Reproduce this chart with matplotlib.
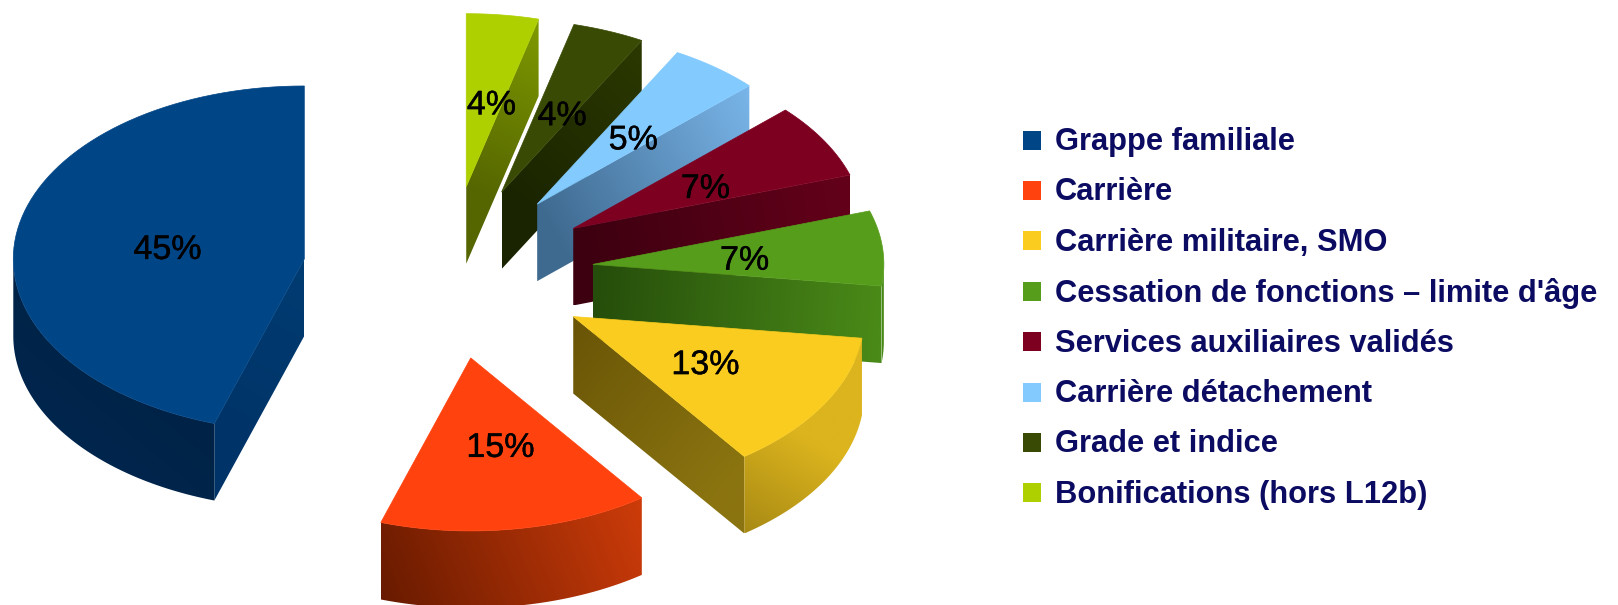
import numpy as np
import matplotlib
matplotlib.use("Agg")
import matplotlib.pyplot as plt
import matplotlib.patheffects as pe
from matplotlib.colors import to_rgb
from matplotlib.patches import Polygon, Rectangle

categories = ["Grappe familiale", "Carrière", "Carrière militaire, SMO",
              "Cessation de fonctions – limite d'âge", "Services auxiliaires validés",
              "Carrière détachement", "Grade et indice", "Bonifications (hors L12b)"]
shares = [45, 15, 13, 7, 7, 5, 4, 4]
pct_labels = ["45%", "15%", "13%", "7%", "7%", "5%", "4%", "4%"]

top_colors = ["#004586", "#ff420e", "#f9cc1f", "#579d1c", "#7e0021", "#83caff", "#394a05", "#aecf00"]
# wall shades, from the centre of the pie out to the rim
cut_colors = [["#003c72", "#003468"], ["#8a2a06", "#8a2a06"], ["#695407", "#8a7410"],
              ["#254d0b", "#4a8a18"], ["#3c0010", "#64001a"], ["#3f6a90", "#7ab6ea"],
              ["#1a2400", "#2c3900"], ["#556600", "#7f9a00"]]
# outer rim shades, left to right
rim_colors = [["#002852", "#001e3e"], ["#671a00", "#ce3c0a"], ["#a88a14", "#dcb41e", "#dcb41e"],
              ["#4a8a18", "#4a8a18"], ["#64001a", "#64001a"], ["#7ab6ea", "#7ab6ea"],
              ["#2c3900", "#2c3900"], ["#7f9a00", "#7f9a00"]]
text_color = "#0b0b62"

# pie geometry in pixels
cx, cy = 448, 272.5
rx, ry = 291, 173
depth = 77
explode = 0.5


def point(x0, y0, ang, r=1.0):
    a = np.radians(ang)
    return x0 + r * rx * np.cos(a), y0 - r * ry * np.sin(a)


def arc(x0, y0, a, b):
    t = np.linspace(a, b, 80)
    return np.column_stack(point(x0, y0, t))


def shade(ax, pts, stops, p0, p1):
    # gradient running from p0 to p1, clipped to the polygon
    pts = np.asarray(pts)
    x0, x1 = pts[:, 0].min(), pts[:, 0].max()
    y0, y1 = pts[:, 1].min(), pts[:, 1].max()
    X, Y = np.meshgrid(np.linspace(x0, x1, 200), np.linspace(y0, y1, 200))
    d = np.array(p1) - np.array(p0)
    t = ((X - p0[0]) * d[0] + (Y - p0[1]) * d[1]) / (d @ d)
    rgb = np.array([to_rgb(c) for c in stops])
    pos = np.linspace(0, 1, len(stops))
    img = np.dstack([np.interp(t, pos, rgb[:, i]) for i in range(3)])
    im = ax.imshow(img, extent=(x0, x1, y1, y0), aspect="auto", interpolation="bilinear", zorder=2)
    patch = Polygon(pts, closed=True, transform=ax.transData, facecolor="none", edgecolor="none")
    ax.add_patch(patch)
    im.set_clip_path(patch)


fig = plt.figure(figsize=(16.18, 6.05), dpi=100)
ax = fig.add_axes([0, 0, 1, 1])

# cumulative angles, first slice starts at 12 o'clock and goes counter clockwise
angles = 90 + np.concatenate([[0], np.cumsum(shares)]) * 3.6

wedges = []
for i in range(len(shares)):
    a, b = angles[i], angles[i + 1]
    mid = (a + b) / 2
    x0, y0 = point(cx, cy, mid, explode)
    wedges.append((i, a, b, mid, x0, y0))

# paint back to front
draw_order = [7, 6, 5, 4, 3, 2, 1, 0]
for i, a, b, mid, x0, y0 in [wedges[k] for k in draw_order]:
    # a is the "first" side going counter clockwise, b the last one
    for side, normal in ((a, a - 90), (b, b + 90)):
        if np.sin(np.radians(normal)) < -0.01:
            ex, ey = point(x0, y0, side)
            pts = [(x0, y0), (ex, ey), (ex, ey + depth), (x0, y0 + depth)]
            shade(ax, pts, cut_colors[i], (x0, y0), (ex, ey))

    # the rim only shows on the front half
    lo, hi = max(a, 180), min(b, 360)
    if i == 3:
        lo, hi = a, 360
    if hi > lo:
        top = arc(x0, y0, lo, hi)
        low = top[::-1] + [0, depth]
        pts = np.vstack([top, low])
        shade(ax, pts, rim_colors[i], (pts[:, 0].min(), pts[:, 1].max()), (pts[:, 0].max(), pts[:, 1].min()))

    face = np.vstack([[(x0, y0)], arc(x0, y0, a, b)])
    ax.add_patch(Polygon(face, closed=True, facecolor=top_colors[i], edgecolor=top_colors[i],
                         linewidth=0.5, zorder=3))

for i, a, b, mid, x0, y0 in wedges:
    lx, ly = point(x0, y0, mid, 0.5)
    ax.text(lx + 7, ly + 5, pct_labels[i], fontsize=24.5, family="Liberation Sans", color="black",
            ha="center", va="center", zorder=5,
            path_effects=[pe.withStroke(linewidth=0.3, foreground="black")])

# legend
for i, name in enumerate(categories):
    y = 140 + i * 50.4
    ax.add_patch(Rectangle((1023, y - 9.5), 18, 19, facecolor=top_colors[i], edgecolor="none", zorder=3))
    ax.text(1055, y + 2, name, fontsize=22.2, family="Liberation Sans", fontweight="bold",
            color=text_color, ha="left", va="center", zorder=5)

ax.set_xlim(0, 1618)
ax.set_ylim(605, 0)
ax.axis("off")

fig.savefig("out.png", dpi=100, facecolor="white")
